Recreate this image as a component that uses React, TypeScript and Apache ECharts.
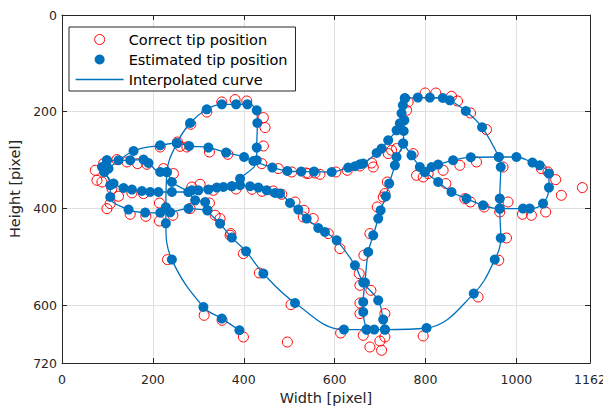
import React, { useEffect, useRef } from "react";
import * as echarts from "echarts";

// Axis limits (data units: pixels of the camera image)
const xLimits = [0, 1162];
const yLimits = [0, 720];
const tickStep = 200;

const seriesNames = ["Correct tip position", "Estimated tip position", "Interpolated curve"];

// Estimated tip positions, grouped into strokes of the interpolated curve
const strokeTailLoop = [
  [390.4, 652.3], [351.7, 628.1], [311.2, 604.1], [241.8, 506.1], [228.6, 431.0], [228.6, 397.9],
  [230.8, 325.4], [252.8, 265.5], [282.0, 223.5], [318.7, 195.1], [351.7, 184.8], [383.1, 184.8],
  [408.0, 184.8], [428.6, 197.2], [429.9, 223.5], [428.6, 274.3], [428.6, 300.6], [391.9, 338.6],
  [373.7, 354.4],
];

const strokeUpperArc = [
  [102.4, 317.8], [157.4, 281.4], [216.1, 269.6], [252.8, 264.8], [279.8, 271.0], [322.2, 274.3],
  [361.1, 284.7], [400.7, 293.8], [421.1, 302.1], [462.9, 315.7], [495.9, 322.8], [526.6, 324.0],
  [554.6, 324.0], [593.5, 324.8], [630.0, 315.7], [644.7, 313.0], [655.7, 308.9], [662.9, 307.5],
  [692.4, 285.5], [703.4, 276.4], [717.9, 259.2], [736.3, 238.6], [743.6, 224.1], [747.3, 203.4],
  [750.2, 186.8], [754.6, 172.3],
];

const strokeBigLoop = [
  [754.6, 172.3], [783.1, 170.9], [809.5, 170.9], [838.1, 171.7], [853.5, 176.5], [888.7, 198.6],
  [924.5, 232.3], [961.2, 293.8], [965.6, 314.5], [963.4, 379.9], [963.4, 400.6], [965.6, 461.4],
  [952.4, 506.1], [906.2, 576.4], [802.3, 647.6], [710.6, 650.9], [687.1, 650.9], [670.4, 650.9],
  [620.5, 650.9], [512.8, 595.9], [443.1, 535.0], [405.1, 488.9], [373.7, 460.6], [347.9, 431.6],
  [320.0, 404.1], [315.0, 386.9], [293.0, 383.4], [278.3, 366.2], [241.8, 345.5], [230.8, 324.8],
  [216.1, 324.8], [190.3, 306.2], [179.4, 299.2], [150.1, 300.6], [124.4, 300.6], [98.9, 300.6],
];

const strokeMiddleArc = [
  [98.9, 300.6], [87.9, 314.5], [93.0, 324.8], [113.4, 348.8], [135.4, 357.9], [153.9, 361.2],
  [175.8, 364.1], [194.1, 366.2], [212.3, 366.2], [241.8, 366.2], [278.3, 366.2], [285.7, 362.7],
  [300.2, 362.7], [322.2, 361.2], [340.7, 357.1], [355.2, 355.9], [373.7, 354.4], [391.9, 352.3],
  [413.9, 354.4], [432.1, 357.1], [450.6, 362.7], [468.8, 368.3], [479.8, 369.5], [501.8, 389.0],
  [520.0, 402.6], [538.5, 421.2], [564.0, 440.7], [578.7, 449.0], [604.5, 466.2], [644.7, 517.9],
  [662.9, 553.7], [695.9, 590.3], [706.9, 630.2], [710.6, 650.9],
];

const strokeLowerRow = [
  [93.0, 324.8], [106.2, 352.3], [106.2, 376.6], [146.4, 402.6], [183.1, 408.8], [216.1, 409.2],
  [238.0, 408.2], [278.3, 400.6], [320.0, 404.1],
];

const strokeStem = [
  [754.6, 172.3], [753.5, 217.9], [752.0, 240.0], [750.8, 266.1], [736.3, 293.8], [732.6, 311.0],
  [720.1, 348.8], [712.8, 375.1], [701.2, 404.1], [695.9, 421.2], [684.9, 455.8], [673.9, 490.4],
  [666.7, 553.7], [662.9, 593.8], [662.9, 614.5], [670.4, 650.9],
];

const strokeRightLoop = [
  [750.8, 266.1], [769.3, 290.3], [787.5, 314.5], [798.5, 324.8], [813.3, 314.5], [827.8, 309.5],
  [860.7, 300.6], [899.7, 294.4], [961.2, 293.8], [1000.1, 293.8], [1035.3, 305.4], [1051.3, 311.0],
  [1071.7, 328.1], [1071.7, 357.1], [1058.6, 390.2], [1029.3, 400.6], [1014.6, 400.6], [963.4, 400.6],
  [926.7, 393.7], [890.2, 379.9], [857.2, 366.2], [827.8, 345.5], [798.5, 324.8],
];

const strokes = [
  strokeTailLoop, strokeUpperArc, strokeBigLoop, strokeMiddleArc,
  strokeLowerRow, strokeStem, strokeRightLoop,
];

// Correct (ground-truth) tip positions
const correctTip = [
  [351.7, 180.0], [380.9, 175.0], [406.6, 177.9], [443.1, 212.3], [446.9, 233.0], [443.1, 271.0],
  [318.7, 200.7], [283.5, 226.1], [254.1, 262.8], [324.4, 283.5], [364.9, 288.2], [260.0, 271.7],
  [274.8, 273.1], [216.1, 273.1], [439.6, 307.5], [476.1, 317.8], [505.5, 324.8], [556.7, 326.9],
  [73.2, 321.3], [76.9, 342.0], [91.4, 307.5], [120.9, 299.2], [142.9, 304.1], [166.2, 307.5],
  [186.8, 308.9], [223.3, 317.8], [245.3, 328.1], [285.7, 355.9], [304.0, 350.3], [109.9, 359.2],
  [124.4, 375.1], [153.9, 368.0], [179.4, 369.5], [87.9, 345.5], [98.9, 400.6], [106.2, 390.2],
  [150.1, 412.3], [184.6, 416.5], [214.5, 389.0], [214.5, 426.2], [244.0, 414.4], [282.0, 400.6],
  [232.1, 506.1], [312.8, 621.3], [399.2, 666.2], [495.9, 676.6], [324.4, 389.0], [347.9, 421.2],
  [371.5, 452.3], [399.2, 493.7], [434.3, 533.8], [504.0, 599.2], [532.6, 404.1], [553.0, 421.2],
  [542.0, 328.1], [567.7, 329.6], [602.9, 324.8], [333.2, 362.7], [465.1, 364.1], [483.6, 371.0],
  [512.8, 386.9], [531.0, 417.9], [586.0, 452.3], [611.7, 483.3], [337.0, 414.4], [369.9, 455.8],
  [677.6, 452.3], [706.9, 376.6], [725.3, 279.9], [780.3, 331.7], [794.8, 335.2], [838.8, 321.3],
  [875.5, 311.0], [886.5, 379.9], [684.9, 314.5], [717.9, 286.8], [799.2, 161.4], [822.7, 161.4],
  [857.2, 168.2], [870.4, 177.9], [899.0, 202.8], [934.2, 237.1], [761.8, 180.0], [758.3, 197.2],
  [537.0, 326.9], [627.8, 321.3], [655.7, 312.4], [681.4, 306.2], [772.8, 286.8], [805.8, 328.1],
  [912.2, 304.1], [970.6, 314.5], [1055.0, 317.8], [1069.6, 324.8], [1086.5, 340.6], [1099.0, 373.0],
  [1145.2, 357.1], [844.7, 348.8], [716.0, 345.5], [710.6, 369.5], [736.3, 276.4], [899.0, 386.9],
  [928.9, 397.2], [981.6, 386.9], [1013.3, 412.3], [1033.1, 414.4], [1064.5, 407.6], [978.1, 461.4],
  [961.2, 507.5], [915.7, 583.5], [794.8, 664.1], [613.2, 658.0], [662.9, 662.7], [677.6, 686.9],
  [703.4, 693.7], [699.6, 674.5], [710.6, 666.2], [655.7, 595.9], [655.7, 617.8], [710.6, 617.8],
  [679.8, 569.6], [655.7, 559.3], [654.1, 535.0], [693.7, 397.2], [963.4, 407.6], [383.1, 360.0],
  [418.3, 360.6], [440.3, 364.8], [352.2, 631.7], [664.4, 497.2],
];

const FONT = "DejaVu Sans";
const AXIS_COLOR = "#262626";
const BLUE = "#0072BD";
const RED = "#FF0000";

export default function App() {
  const ref = useRef<HTMLDivElement>(null);

  useEffect(() => {
    document.body.style.margin = "0";
    if (!ref.current) return;
    const chart = echarts.init(ref.current, null, { renderer: "svg" });

    const boxAxis = (position: string, isX: boolean) => ({
      type: "value",
      min: isX ? xLimits[0] : yLimits[0],
      max: isX ? xLimits[1] : yLimits[1],
      interval: tickStep,
      position,
      inverse: !isX,
      axisLine: { show: true, onZero: false, lineStyle: { color: AXIS_COLOR, width: 1 } },
      axisTick: { show: true, inside: true, length: 5, lineStyle: { color: AXIS_COLOR, width: 1 } },
      axisLabel: { show: false },
      splitLine: { show: false },
    });

    const plainNumber = (v: number) => String(v);

    const option: any = {
      animation: false,
      backgroundColor: "#ffffff",
      textStyle: { fontFamily: FONT },
      grid: { left: 62, right: 13, top: 15, bottom: 44, containLabel: false, outerBoundsMode: "none" },
      legend: {
        orient: "vertical",
        left: 69,
        top: 27,
        itemWidth: 48,
        itemHeight: 10,
        itemGap: 5,
        padding: [5, 8, 4, 6],
        borderColor: AXIS_COLOR,
        borderWidth: 1,
        borderRadius: 0,
        backgroundColor: "#ffffff",
        textStyle: { fontFamily: FONT, fontSize: 14.5, color: "#000000" },
        data: [
          {
            name: seriesNames[0],
            icon: "circle",
            itemStyle: { color: "rgba(255,255,255,0)", borderColor: RED, borderWidth: 1, opacity: 1 },
          },
          { name: seriesNames[1], icon: "circle", itemStyle: { color: BLUE, borderWidth: 0, opacity: 1 } },
          {
            name: seriesNames[2],
            itemStyle: { color: "rgba(0,0,0,0)", borderWidth: 0, opacity: 0 },
            lineStyle: { color: BLUE, width: 1.3 },
          },
        ],
      },
      xAxis: [
        {
          type: "value",
          min: xLimits[0],
          max: xLimits[1],
          interval: tickStep,
          position: "bottom",
          name: "Width [pixel]",
          nameLocation: "middle",
          nameGap: 27,
          nameTextStyle: { fontFamily: FONT, fontSize: 14.5, color: AXIS_COLOR },
          axisLine: { show: true, onZero: false, lineStyle: { color: AXIS_COLOR, width: 1 } },
          axisTick: { show: true, inside: true, length: 5, lineStyle: { color: AXIS_COLOR, width: 1 } },
          axisLabel: {
            show: true,
            margin: 10,
            fontFamily: FONT,
            fontSize: 12.5,
            color: AXIS_COLOR,
            showMinLabel: true,
            showMaxLabel: true,
            formatter: plainNumber,
          },
          splitLine: { show: true, lineStyle: { color: "#E0E0E0", width: 1 } },
        },
        boxAxis("top", true),
      ],
      yAxis: [
        {
          type: "value",
          min: yLimits[0],
          max: yLimits[1],
          interval: tickStep,
          inverse: true,
          position: "left",
          name: "Height [pixel]",
          nameLocation: "middle",
          nameGap: 37,
          nameTextStyle: { fontFamily: FONT, fontSize: 14.5, color: AXIS_COLOR },
          axisLine: { show: true, onZero: false, lineStyle: { color: AXIS_COLOR, width: 1 } },
          axisTick: { show: true, inside: true, length: 5, lineStyle: { color: AXIS_COLOR, width: 1 } },
          axisLabel: {
            show: true,
            margin: 5,
            fontFamily: FONT,
            fontSize: 12.5,
            color: AXIS_COLOR,
            showMinLabel: true,
            showMaxLabel: true,
            formatter: plainNumber,
          },
          splitLine: { show: true, lineStyle: { color: "#E0E0E0", width: 1 } },
        },
        boxAxis("right", false),
      ],
      series: [
        {
          name: seriesNames[0],
          type: "scatter",
          data: correctTip,
          symbol: "circle",
          symbolSize: 10,
          itemStyle: { color: "rgba(255,255,255,0)", borderColor: RED, borderWidth: 1, opacity: 1 },
          z: 2,
          silent: true,
        },
        ...strokes.map((s) => ({
          name: seriesNames[2],
          type: "line",
          data: s,
          smooth: 0.4,
          symbol: "none",
          showSymbol: false,
          lineStyle: { color: BLUE, width: 1.3 },
          itemStyle: { color: "rgba(0,0,0,0)", borderWidth: 0 },
          z: 3,
          silent: true,
        })),
        {
          name: seriesNames[1],
          type: "scatter",
          data: strokes.flat(),
          symbol: "circle",
          symbolSize: 10,
          itemStyle: { color: BLUE, opacity: 1 },
          z: 4,
          silent: true,
        },
      ],
    };

    chart.setOption(option);
    return () => chart.dispose();
  }, []);

  return (
    <div
      ref={ref}
      style={{ position: "fixed", left: 0, top: 0, width: 603, height: 407 }}
    />
  );
}
